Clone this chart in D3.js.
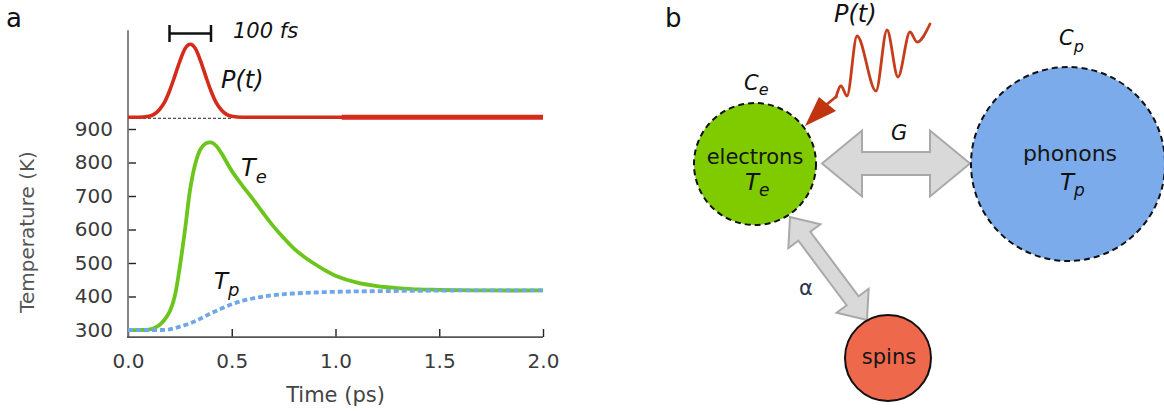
<!DOCTYPE html>
<html><head><meta charset="utf-8">
<script src="https://cdn.jsdelivr.net/npm/d3@7/dist/d3.min.js"></script>
<style>
html,body{margin:0;padding:0;background:#fff;}
svg{display:block;font-family:"DejaVu Sans",sans-serif;}
</style></head>
<body>
<svg id="c" width="1164" height="411"></svg>
<script>
// ---- data ----
const timeTicks = [0, 0.5, 1.0, 1.5, 2.0];
const tempTicks = [300, 400, 500, 600, 700, 800, 900];

const pulseTime = [0, 0.05, 0.1, 0.125, 0.15, 0.175, 0.2, 0.225, 0.25, 0.275, 0.3, 0.325, 0.35, 0.375, 0.4, 0.425, 0.45, 0.475, 0.5, 0.55, 0.6, 1.0, 1.5, 2.0];
const pulseVal  = [0, 0, 0.015, 0.04, 0.1, 0.2, 0.36, 0.56, 0.77, 0.94, 1.0, 0.94, 0.77, 0.56, 0.36, 0.2, 0.1, 0.04, 0.015, 0, 0, 0, 0, 0];

const teTime = [0, 0.05, 0.1, 0.125, 0.15, 0.175, 0.2, 0.225, 0.25, 0.275, 0.3, 0.325, 0.35, 0.375, 0.4, 0.425, 0.45, 0.5, 0.55, 0.6, 0.65, 0.7, 0.75, 0.8, 0.85, 0.9, 0.95, 1.0, 1.1, 1.2, 1.3, 1.4, 1.5, 1.75, 2.0];
const teVal  = [300, 300, 301, 305, 314, 330, 354, 400, 490, 600, 722, 798, 840, 857, 860, 850, 828, 775, 732, 692, 650, 610, 575, 543, 518, 497, 478, 462, 442, 431, 425, 421, 420, 418, 418];

const tpTime = [0, 0.1, 0.15, 0.2, 0.25, 0.3, 0.35, 0.4, 0.45, 0.5, 0.6, 0.7, 0.8, 0.9, 1.0, 1.2, 1.4, 1.6, 2.0];
const tpVal  = [300, 300, 300, 302, 310, 320, 334, 350, 364, 377, 394, 404, 409, 412, 414, 416, 417, 418, 418];

const nodeNames = ["electrons", "phonons", "spins"];

// ---- layout ----
const svg = d3.select("#c");
const x = d3.scaleLinear().domain([0, 2]).range([128, 543]);
const y = d3.scaleLinear().domain([300, 900]).range([330, 129]);
const pScale = d3.scaleLinear().domain([0, 1]).range([y(935), y(1153)]);
const axisBottomY = y(279);
const axisTopY = y(1195);

const ink = "#3a3a3a";

// panel letters
svg.append("text").attr("x", 6).attr("y", 27).attr("font-size", 26).attr("fill", "#111").text("a");
svg.append("text").attr("x", 665).attr("y", 27).attr("font-size", 26).attr("fill", "#111").text("b");

// axes
const gx = svg.append("g").attr("transform", `translate(0,${axisBottomY})`)
  .call(d3.axisBottom(x).tickValues(timeTicks).tickFormat(d3.format(".1f")).tickSize(-8).tickPadding(17));
const gy = svg.append("g").attr("transform", `translate(${x(0)},0)`)
  .call(d3.axisLeft(y).tickValues(tempTicks).tickSize(-8).tickPadding(15));
[gx, gy].forEach(g => {
  g.select(".domain").remove();
  g.selectAll(".tick line").attr("stroke", "#222").attr("stroke-width", 1.4);
  g.selectAll(".tick text").attr("font-size", 20).attr("fill", ink).attr("font-family", "DejaVu Sans");
});
svg.append("line").attr("x1", x(0)).attr("x2", x(0)).attr("y1", axisTopY).attr("y2", axisBottomY)
  .attr("stroke", "#777").attr("stroke-width", 1.8);
svg.append("line").attr("x1", x(0) - 1).attr("x2", x(2)).attr("y1", axisBottomY).attr("y2", axisBottomY)
  .attr("stroke", "#555").attr("stroke-width", 1.8);

svg.append("text").attr("x", x(1)).attr("y", 402).attr("text-anchor", "middle")
  .attr("font-size", 21).attr("fill", "#444").text("Time (ps)");
svg.append("text").attr("transform", "translate(34,232) rotate(-90)").attr("text-anchor", "middle")
  .attr("font-size", 20).attr("fill", "#555").text("Temperature (K)");

// pulse baseline (dashed)
svg.append("line").attr("x1", x(0)).attr("x2", x(0.5)).attr("y1", pScale(0) + 1).attr("y2", pScale(0) + 1)
  .attr("stroke", "#222").attr("stroke-width", 1).attr("stroke-dasharray", "3,2");

// curves
const pulse = pulseTime.map((t, i) => [t, pulseVal[i]]);
const te = teTime.map((t, i) => [t, teVal[i]]);
const tp = tpTime.map((t, i) => [t, tpVal[i]]);

svg.append("path").datum(pulse)
  .attr("d", d3.line().x(d => x(d[0])).y(d => pScale(d[1])).curve(d3.curveMonotoneX))
  .attr("fill", "none").attr("stroke", "#d42b1a").attr("stroke-width", 3.6);
// slightly heavier tail segment of the pulse trace (as in the reference)
svg.append("line").attr("x1", x(1.03)).attr("x2", x(2)).attr("y1", pScale(0)).attr("y2", pScale(0))
  .attr("stroke", "#d42b1a").attr("stroke-width", 5);

svg.append("path").datum(te)
  .attr("d", d3.line().x(d => x(d[0])).y(d => y(d[1])).curve(d3.curveCatmullRom.alpha(0.5)))
  .attr("fill", "none").attr("stroke", "#6cc51c").attr("stroke-width", 3.8);

svg.append("path").datum(tp)
  .attr("d", d3.line().x(d => x(d[0])).y(d => y(d[1])).curve(d3.curveMonotoneX))
  .attr("fill", "none").attr("stroke", "#6fa8e6").attr("stroke-width", 3.8).attr("stroke-dasharray", "5,3");

// scale bar 100 fs
const bar = svg.append("g").attr("stroke", "#111").attr("stroke-width", 2.5);
bar.append("line").attr("x1", x(0.2)).attr("x2", x(0.4)).attr("y1", 33.5).attr("y2", 33.5);
bar.append("line").attr("x1", x(0.2)).attr("x2", x(0.2)).attr("y1", 25).attr("y2", 42);
bar.append("line").attr("x1", x(0.4)).attr("x2", x(0.4)).attr("y1", 25).attr("y2", 42);
svg.append("text").attr("x", 233).attr("y", 38).attr("font-size", 21).attr("font-style", "italic")
  .attr("fill", "#111").text("100 fs");

// curve labels
function subLabel(px, py, main, sub, fs, sfs, dy) {
  const t = svg.append("text").attr("x", px).attr("y", py).attr("font-size", fs)
    .attr("font-style", "italic").attr("fill", "#111");
  t.append("tspan").text(main);
  if (sub) t.append("tspan").attr("font-size", sfs).attr("dy", dy).text(sub);
  return t;
}
svg.append("text").attr("x", 221).attr("y", 88).attr("font-size", 24).attr("font-style", "italic")
  .attr("fill", "#111").text("P(t)");
subLabel(241, 176, "T", "e", 24, 18, 7);
subLabel(214, 289, "T", "p", 23, 18, 7);

// ---- panel b : diagram ----
const dg = svg.append("g");
function dblArrow(x1, y1, x2, y2, headLen, headHalf, shaftHalf) {
  const dx = x2 - x1, dy = y2 - y1, L = Math.hypot(dx, dy);
  const ux = dx / L, uy = dy / L, nx = -uy, ny = ux;
  const P = (s, w) => [x1 + ux * s + nx * w, y1 + uy * s + ny * w];
  const pts = [P(0, 0), P(headLen, headHalf), P(headLen, shaftHalf), P(L - headLen, shaftHalf),
    P(L - headLen, headHalf), P(L, 0), P(L - headLen, -headHalf), P(L - headLen, -shaftHalf),
    P(headLen, -shaftHalf), P(headLen, -headHalf)];
  return "M" + pts.map(p => p.join(",")).join("L") + "Z";
}
dg.append("path").attr("d", dblArrow(822, 163.5, 970, 163.5, 40, 33, 11.5))
  .attr("fill", "#d9d9d9").attr("stroke", "#a9a9a9").attr("stroke-width", 2).attr("stroke-linejoin", "miter");
dg.append("path").attr("d", dblArrow(790, 217, 867, 320, 24, 20, 7.5))
  .attr("fill", "#d9d9d9").attr("stroke", "#a9a9a9").attr("stroke-width", 2).attr("stroke-linejoin", "miter");

// circles
const nodes = [
  {name: nodeNames[0], cx: 755, cy: 164, r: 61, fill: "#7fcb00", dash: "6,4"},
  {name: nodeNames[1], cx: 1068, cy: 164, r: 97, fill: "#7cabec", dash: "6,4"},
  {name: nodeNames[2], cx: 888, cy: 358, r: 43, fill: "#ee694b", dash: null}
];
nodes.forEach(n => {
  const c = dg.append("circle").attr("cx", n.cx).attr("cy", n.cy).attr("r", n.r)
    .attr("fill", n.fill).attr("stroke", "#111").attr("stroke-width", 2);
  if (n.dash) c.attr("stroke-dasharray", n.dash);
});
dg.append("text").attr("x", 755).attr("y", 164).attr("text-anchor", "middle").attr("font-size", 21)
  .attr("fill", "#151515").text(nodeNames[0]);
dg.append("text").attr("x", 1070).attr("y", 161).attr("text-anchor", "middle").attr("font-size", 22)
  .attr("fill", "#151515").text(nodeNames[1]);
dg.append("text").attr("x", 889).attr("y", 364).attr("text-anchor", "middle").attr("font-size", 21)
  .attr("fill", "#151515").text(nodeNames[2]);
subLabel(745, 190, "T", "e", 23, 17, 6);
subLabel(1060, 190, "T", "p", 23, 17, 6);
subLabel(744, 90, "C", "e", 21, 16, 5);
subLabel(1059, 45, "C", "p", 21, 16, 7);
svg.append("text").attr("x", 891).attr("y", 140).attr("font-size", 21).attr("font-style", "italic")
  .attr("fill", "#111").text("G");
svg.append("text").attr("x", 799).attr("y", 295).attr("font-size", 21)
  .attr("fill", "#2a3550").text("α");
svg.append("text").attr("x", 834).attr("y", 22).attr("font-size", 24).attr("font-style", "italic")
  .attr("fill", "#111").text("P(t)");

// photon: wave + arrow head
const wavePts = [[836, 97], [841, 86], [847, 96], [857, 36], [876, 91], [887, 30], [898, 77], [910, 32], [917, 42], [930, 24]];
dg.append("path").attr("d", d3.line().curve(d3.curveMonotoneX)(wavePts))
  .attr("fill", "none").attr("stroke", "#c63d1c").attr("stroke-width", 2.8).attr("stroke-linecap", "round");
dg.append("line").attr("x1", 826).attr("y1", 105).attr("x2", 837).attr("y2", 96)
  .attr("stroke", "#c63d1c").attr("stroke-width", 2.8);
dg.append("path").attr("d", "M805,126L819,97L836,111Z").attr("fill", "#c0340f");
</script>
</body></html>
